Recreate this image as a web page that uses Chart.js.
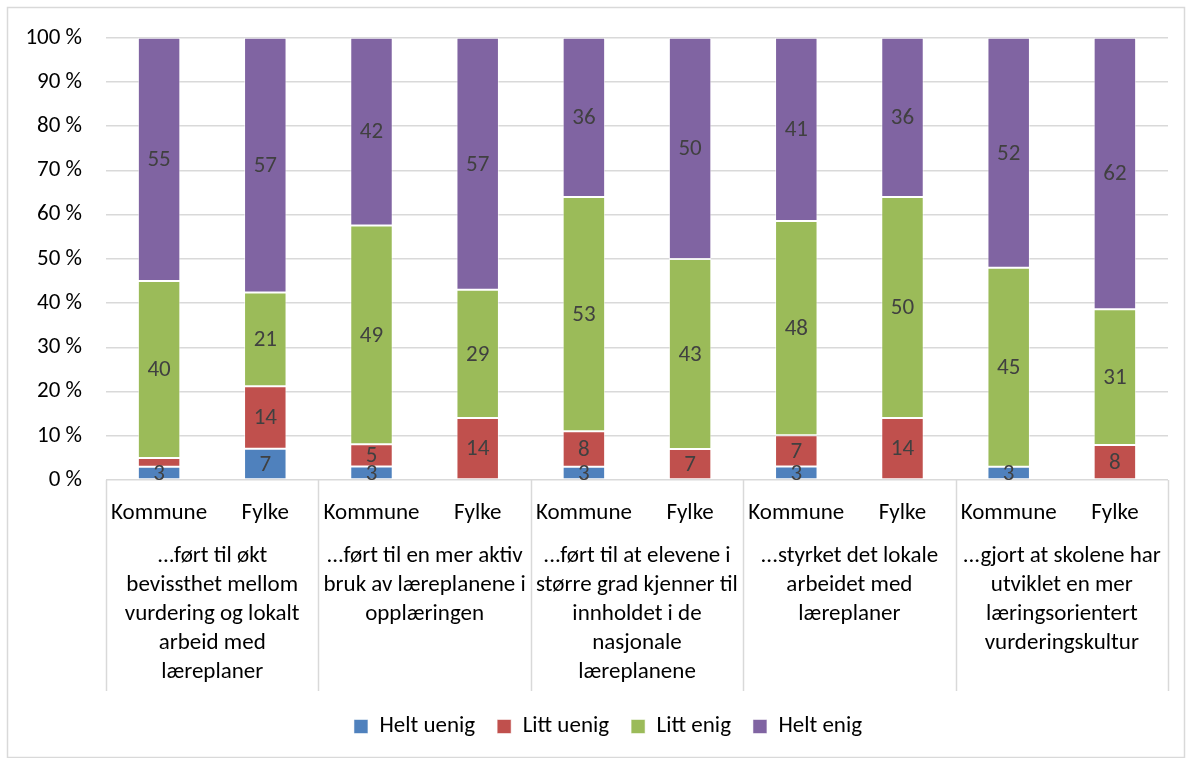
<!DOCTYPE html>
<html>
<head>
<meta charset="utf-8">
<script src="https://cdn.jsdelivr.net/npm/chart.js@4/dist/chart.umd.min.js"></script>
<style>
  html, body { margin: 0; padding: 0; background: #fff; }
  #wrap { position: relative; width: 1190px; height: 758px; }
</style>
</head>
<body>
<div id="wrap"><canvas id="c"></canvas></div>
<script>
const categories = ['Kommune', 'Fylke', 'Kommune', 'Fylke', 'Kommune', 'Fylke', 'Kommune', 'Fylke', 'Kommune', 'Fylke'];
const groupLabels = [
  ['...ført til økt', 'bevissthet mellom', 'vurdering og lokalt', 'arbeid med', 'læreplaner'],
  ['...ført til en mer aktiv', 'bruk av læreplanene i', 'opplæringen'],
  ['...ført til at elevene i', 'større grad kjenner til', 'innholdet i de', 'nasjonale', 'læreplanene'],
  ['...styrket det lokale', 'arbeidet med', 'læreplaner'],
  ['...gjort at skolene har', 'utviklet en mer', 'læringsorientert', 'vurderingskultur']
];
const seriesNames = ['Helt uenig', 'Litt uenig', 'Litt enig', 'Helt enig'];
const heltUenig = [3, 7, 3, 0, 3, 0, 3, 0, 3, 0];
const littUenig = [2, 14, 5, 14, 8, 7, 7, 14, 0, 8];
const littEnig  = [40, 21, 49, 29, 53, 43, 48, 50, 45, 31];
const heltEnig  = [55, 57, 42, 57, 36, 50, 41, 36, 52, 62];
const yTickValues = [0, 10, 20, 30, 40, 50, 60, 70, 80, 90, 100];
const colors = ['#4F81BD', '#C0504D', '#9BBB59', '#8064A2'];

const FONT = 'Carlito, Lato, "Liberation Sans", sans-serif';
const raw = [heltUenig, littUenig, littEnig, heltEnig];
const totals = categories.map((_, i) => raw.reduce((s, a) => s + a[i], 0));
const datasets = raw.map((arr, k) => ({
  label: seriesNames[k],
  data: arr.map((v, i) => v / totals[i] * 100),
  rawValues: arr,
  backgroundColor: colors[k],
  borderColor: 'rgba(255,255,255,0.55)',
  borderWidth: 1,
  borderSkipped: false,
  barPercentage: 0.4,
  categoryPercentage: 1.0
}));

const frame = {
  id: 'frame',
  afterLayout(chart) {
    const lg = chart.legend;
    if (lg) { lg.left += 14; lg.right += 14; }
  },
  beforeDraw(chart) {
    const ctx = chart.ctx;
    ctx.save();
    ctx.fillStyle = '#fff';
    ctx.fillRect(0, 0, chart.width, chart.height);
    ctx.strokeStyle = '#d9d9d9';
    ctx.lineWidth = 1.5;
    ctx.strokeRect(7.5, 7.5, chart.width - 13, chart.height - 8);
    ctx.restore();
  },
  afterDraw(chart) {
    const ctx = chart.ctx;
    const xs = chart.scales.x;
    const step = xs.width / categories.length;
    ctx.save();
    ctx.strokeStyle = '#d9d9d9';
    ctx.lineWidth = 1.5;
    for (let k = 0; k <= categories.length; k += 2) {
      const px = Math.round(xs.left + k * step) + 0.5;
      ctx.beginPath();
      ctx.moveTo(px, chart.chartArea.bottom);
      ctx.lineTo(px, chart.chartArea.bottom + 211);
      ctx.stroke();
    }
    ctx.restore();
  }
};

const valueLabels = {
  id: 'valueLabels',
  afterDatasetsDraw(chart) {
    const ctx = chart.ctx;
    ctx.save();
    ctx.font = '23px ' + FONT;
    ctx.fillStyle = '#404040';
    ctx.textAlign = 'center';
    ctx.textBaseline = 'middle';
    chart.data.datasets.forEach((ds, di) => {
      const meta = chart.getDatasetMeta(di);
      meta.data.forEach((el, i) => {
        const v = ds.rawValues[i];
        if (v < 3) return;
        const c = el.getCenterPoint();
        ctx.fillText(String(v), c.x, c.y + 1);
      });
    });
    ctx.restore();
  }
};

new Chart(document.getElementById('c'), {
  type: 'bar',
  data: { labels: categories, datasets },
  options: {
    responsive: true,
    maintainAspectRatio: false,
    animation: false,
    layout: { padding: { top: 28, right: 22, left: 20, bottom: 10 } },
    plugins: {
      legend: {
        position: 'bottom',
        labels: {
          font: { family: FONT, size: 23 },
          color: '#000',
          boxWidth: 14,
          boxHeight: 14,
          padding: 22
        }
      },
      tooltip: { enabled: false }
    },
    scales: {
      x: {
        stacked: true,
        grid: { display: false },
        border: { display: false },
        ticks: {
          font: { family: FONT, size: 23 },
          color: '#000',
          maxRotation: 0,
          autoSkip: false,
          padding: 11
        },
        afterFit(s) { s.height = 52; }
      },
      x2: {
        type: 'category',
        labels: groupLabels,
        offset: true,
        position: 'bottom',
        grid: { display: false },
        border: { display: false },
        ticks: {
          font: { family: FONT, size: 23, lineHeight: 1.26 },
          color: '#000',
          maxRotation: 0,
          autoSkip: false,
          padding: 2
        },
        afterFit(s) { s.height = 161; }
      },
      y: {
        stacked: true,
        min: 0,
        max: 100,
        afterBuildTicks(s) { s.ticks = yTickValues.map(v => ({ value: v })); },
        grid: { color: '#d9d9d9', lineWidth: 1.5, drawTicks: false },
        border: { display: false },
        ticks: {
          font: { family: FONT, size: 23 },
          color: '#000',
          padding: 24,
          callback: v => v + ' %'
        },
        afterFit(s) { s.width = 86; }
      }
    }
  },
  plugins: [frame, valueLabels]
});
</script>
</body>
</html>
